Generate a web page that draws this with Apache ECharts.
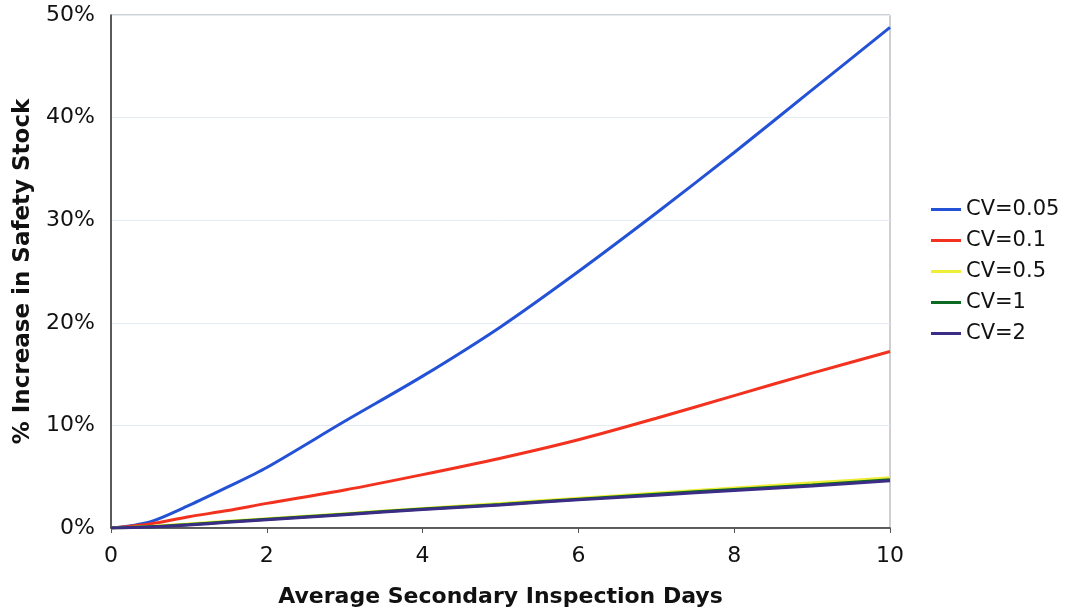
<!DOCTYPE html>
<html>
<head>
<meta charset="utf-8">
<script src="https://cdn.jsdelivr.net/npm/echarts@6/dist/echarts.min.js"></script>
<style>
  html, body { margin: 0; padding: 0; background: #fff; }
  #chart { width: 1070px; height: 613px; }
</style>
</head>
<body>
<div id="chart"></div>
<script>
// x values: average secondary inspection days
const days = [0, 0.5, 1, 1.5, 2, 3, 4, 5, 6, 7, 8, 9, 10]
// % increase in safety stock
const cv005 = [0, 0.6, 2.2, 4.0, 5.9, 10.4, 14.8, 19.6, 25.0, 30.7, 36.6, 42.7, 48.8]
const cv01 = [0, 0.4, 1.1, 1.7, 2.4, 3.7, 5.2, 6.8, 8.6, 10.7, 12.9, 15.1, 17.2]
const cv05 = [0, 0.15, 0.4, 0.65, 0.9, 1.4, 1.9, 2.4, 2.9, 3.4, 3.9, 4.4, 4.9]
const cv1 = [0, 0.12, 0.35, 0.6, 0.85, 1.35, 1.85, 2.3, 2.8, 3.3, 3.75, 4.2, 4.7]
const cv2 = [0, 0.1, 0.3, 0.55, 0.8, 1.3, 1.8, 2.25, 2.75, 3.2, 3.65, 4.1, 4.6]
const seriesNames = ['CV=0.05', 'CV=0.1', 'CV=0.5', 'CV=1', 'CV=2']
const seriesColors = ['#2352d6', '#f2321e', '#eeee3a', '#0c6a22', '#3b2d86']

const allValues = [cv005, cv01, cv05, cv1, cv2]
const font = 'DejaVu Sans, Verdana, sans-serif'

const chart = echarts.init(document.getElementById('chart'))
chart.setOption({
  backgroundColor: '#fff',
  animation: false,
  grid: {
    left: 111,
    right: 180,
    top: 15,
    bottom: 85,
    outerBoundsMode: 'none',
    containLabel: false,
    show: true,
    borderColor: '#a0a0a0',
    borderWidth: 1
  },
  legend: {
    orient: 'vertical',
    left: 926,
    top: 194,
    itemWidth: 30,
    itemHeight: 3,
    itemGap: 10,
    icon: 'rect',
    data: seriesNames,
    textStyle: { fontFamily: font, fontSize: 21, color: '#111' }
  },
  xAxis: {
    type: 'value',
    min: 0,
    max: 10,
    interval: 2,
    name: 'Average Secondary Inspection Days',
    nameLocation: 'middle',
    nameGap: 58,
    nameTextStyle: { fontFamily: font, fontSize: 22, fontWeight: 'bold', color: '#111' },
    axisLine: { lineStyle: { color: '#333', width: 1.5 } },
    axisTick: { show: true, length: 5, lineStyle: { color: '#555' } },
    axisLabel: { fontFamily: font, fontSize: 22, color: '#111', margin: 17 },
    splitLine: { show: false }
  },
  yAxis: {
    type: 'value',
    min: 0,
    max: 50,
    interval: 10,
    name: '% Increase in Safety Stock',
    nameLocation: 'middle',
    nameGap: 76,
    nameTextStyle: { fontFamily: font, fontSize: 23, fontWeight: 'bold', color: '#111' },
    axisLine: { show: true, lineStyle: { color: '#333', width: 1.5 } },
    axisTick: { show: false },
    axisLabel: { fontFamily: font, fontSize: 22, color: '#111', margin: 16, formatter: '{value}%' },
    splitLine: { show: true, lineStyle: { color: '#e4ebf2', width: 1 } }
  },
  series: seriesNames.map(function(name, i) {
    return {
      name: name,
      type: 'line',
      smooth: 0.3,
      symbol: 'none',
      color: seriesColors[i],
      lineStyle: { width: 3, color: seriesColors[i] },
      data: days.map(function(d, j) { return [d, allValues[i][j]] })
    }
  })
})
</script>
</body>
</html>
